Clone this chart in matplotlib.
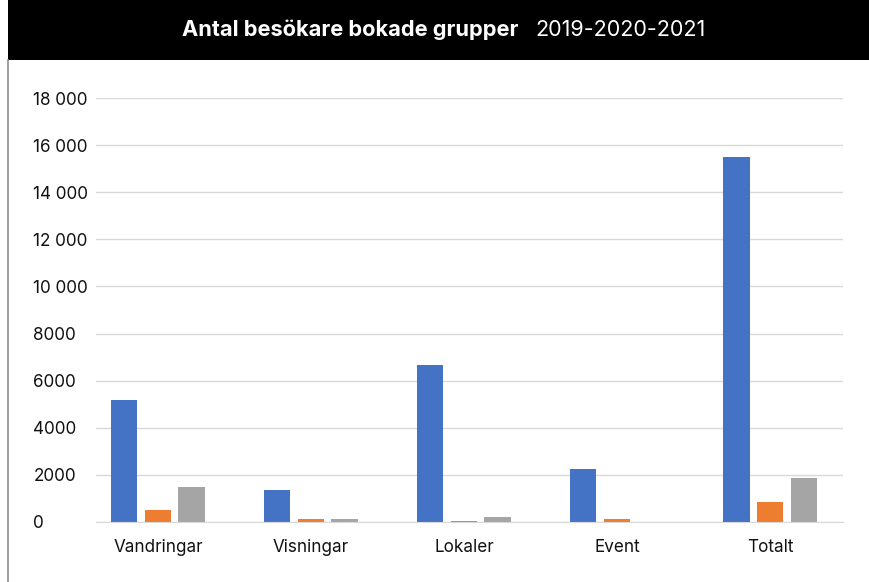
import numpy as np
import matplotlib.pyplot as plt
from matplotlib.lines import Line2D
from matplotlib.patches import Rectangle

plt.rcParams['font.family'] = ['Inter', 'DejaVu Sans']

# Data
kategorier = ['Vandringar', 'Visningar', 'Lokaler', 'Event', 'Totalt']
ar_2019 = [5180, 1370, 6660, 2240, 15480]
ar_2020 = [520, 140, 40, 140, 850]
ar_2021 = [1470, 130, 225, 0, 1850]
y_ticks = [0, 2000, 4000, 6000, 8000, 10000, 12000, 14000, 16000, 18000]

farger = ['#4472C4', '#ED7D31', '#A5A5A5']

fig = plt.figure(figsize=(8.7, 5.82), dpi=100)
ax = fig.add_axes([96 / 870, 1 - 522 / 582, (843 - 96) / 870, (522 - 98) / 582])

x = np.arange(len(kategorier))
steg = 0.222
bredd = 0.176
for i, (serie, farg) in enumerate(zip([ar_2019, ar_2020, ar_2021], farger)):
    ax.bar(x + (i - 1) * steg, serie, width=bredd, color=farg, zorder=3)

ax.set_xlim(-0.405, 4.477)
ax.set_ylim(0, 18000)
ax.set_yticks(y_ticks)
ax.set_yticklabels([f'{v:,}'.replace(',', ' ') if v >= 10000 else str(v) for v in y_ticks])
ax.set_xticks(x)
ax.set_xticklabels(kategorier)

ax.grid(axis='y', color='#d9d9d9', linewidth=1, zorder=0)
for s in ['top', 'right', 'left']:
    ax.spines[s].set_visible(False)
ax.spines['bottom'].set_color('#d9d9d9')
ax.spines['bottom'].set_zorder(4)

ax.tick_params(axis='both', length=0, labelsize=12.3, colors='#111111')
ax.tick_params(axis='x', pad=12)
ax.tick_params(axis='y', pad=45)
for lbl in ax.get_yticklabels():
    lbl.set_horizontalalignment('left')

# Titelrad
fig.add_artist(Rectangle((8 / 870, 1 - 60 / 582), 1, 60 / 582, transform=fig.transFigure,
                         facecolor='black', edgecolor='none'))
fig.text(518 / 870, 1 - 30 / 582, 'Antal besökare bokade grupper', color='white',
         fontsize=15.7, fontweight='bold', ha='right', va='center')
fig.text(535 / 870, 1 - 30 / 582, '2019-2020-2021', color='white',
         fontsize=15.5, ha='left', va='center')

# Vänsterkant
fig.add_artist(Line2D([8.5 / 870, 8.5 / 870], [0, 1 - 60 / 582], transform=fig.transFigure,
                      color='#8c8c8c', linewidth=1.2))

fig.savefig('out.png', dpi=100)
